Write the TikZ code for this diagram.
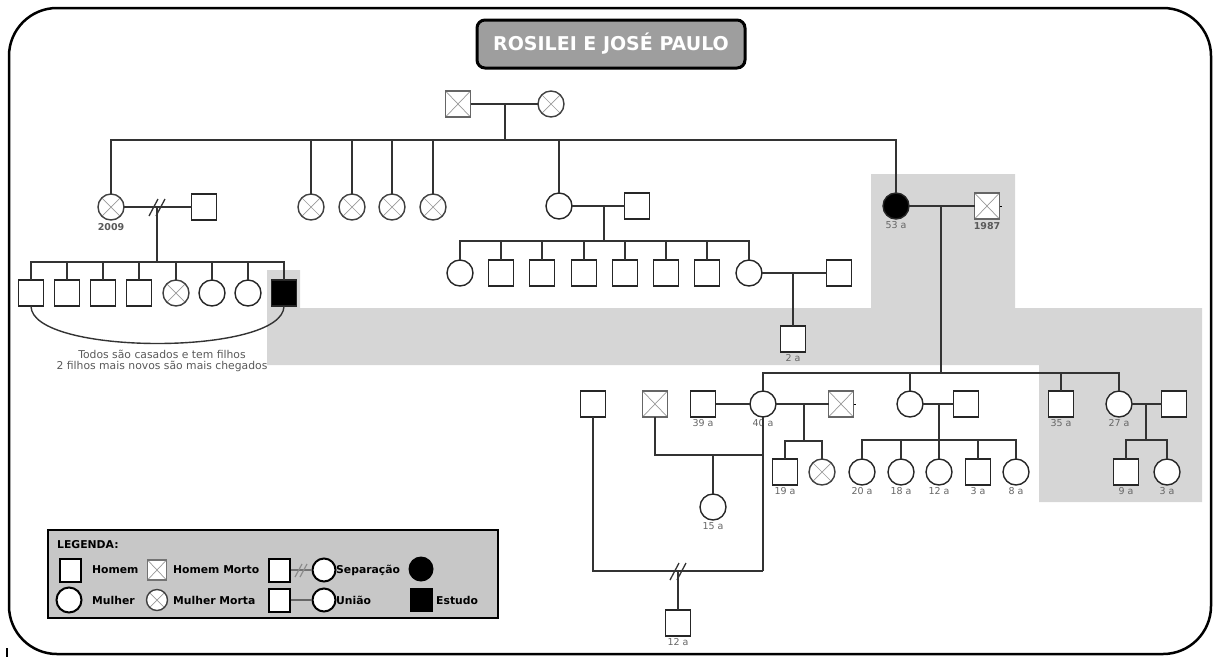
\documentclass[tikz,border=0pt]{standalone}
\usepackage{fontspec}
\setmainfont{DejaVu Sans}
\usetikzlibrary{calc}
\tikzset{
  conn/.style={line width=1.4pt, draw=black!80},
  sym/.style={draw=black!85, line width=1.4pt, fill=white, inner sep=0pt, outer sep=0pt},
  man/.style={sym, rectangle, minimum width=25pt, minimum height=26pt},
  woman/.style={sym, circle, minimum size=26pt},
  dead/.style={path picture={\draw[black!40, line width=0.7pt]
     (path picture bounding box.south west) -- (path picture bounding box.north east)
     (path picture bounding box.north west) -- (path picture bounding box.south east);}},
  deadman/.style={man, dead, draw=black!60},
  deadwoman/.style={woman, dead, draw=black!75},
  proband/.style={fill=black},
  lab/.style={font=\fontsize{9.5}{10}\selectfont, text=black!60, inner sep=1pt, label distance=1pt},
  labd/.style={font=\bfseries\fontsize{9.5}{10}\selectfont, text=black!65, inner sep=1pt, label distance=2pt},
  note/.style={font=\fontsize{10.8}{12}\selectfont, text=black!65, inner sep=0pt},
  lgsq/.style={draw=black, line width=2pt, fill=white, inner sep=0pt, rectangle, minimum width=21pt, minimum height=23pt},
  lgci/.style={draw=black, line width=2pt, fill=white, circle, minimum size=23pt, inner sep=0pt},
  legtext/.style={font=\bfseries\fontsize{10.8}{12}\selectfont, anchor=west, inner sep=0pt},
  sepmark/.pic={\draw[line width=1.3pt, black!80] (-8,9) -- (1,-8) (-1,9) -- (8,-8);},
  sepmarkleg/.pic={\draw[line width=1.2pt, black!45] (-6,7) -- (1,-6) (-1,7) -- (6,-6);}
}
\begin{document}
\begin{tikzpicture}[x=1pt,y=-1pt]
\useasboundingbox (0,0) rectangle (1214,657);

% grey highlight region
\fill[black!16] (267,270) -- (300,270) -- (300,308) -- (871,308) -- (871,174) -- (1015,174)
  -- (1015,308) -- (1202,308) -- (1202,502) -- (1039,502) -- (1039,365) -- (267,365) -- cycle;

% outer frame
\draw[line width=2.5pt, rounded corners=48pt] (9,8) rectangle (1211,654);
\draw[line width=2pt] (7,648) -- (7,657);

% title
\node[draw=black, line width=3pt, fill=black!38, rounded corners=8pt, minimum width=268pt,
  minimum height=48pt, text=white, font=\bfseries\fontsize{19}{22}\selectfont] (title) at (611,44) {ROSILEI E JOSÉ PAULO};

% ---------- generation 1
\node[deadman] (gp) at (458,104) {};
\node[deadwoman] (gm) at (551,104) {};
\coordinate (tj) at (505,104);
\coordinate (ts) at (505,140);
\draw[conn] (gp.east) -- (gm.west);
\draw[conn] (tj) -- (ts);

% ---------- generation 2
\node[deadwoman, label={[labd]below:2009}] (a1) at (111,207) {};
\node[man] (a1h) at (204,207) {};
\node[deadwoman] (a2) at (311,207) {};
\node[deadwoman] (a3) at (352,207) {};
\node[deadwoman] (a4) at (392,207) {};
\node[deadwoman] (a5) at (433,207) {};
\node[woman] (a6) at (559,206) {};
\node[man] (a6h) at (637,206) {};
\node[woman, proband, label={[lab]below:53 a}] (r) at (896,206) {};
\node[deadman, label={[labd]below:1987}] (rh) at (987,206) {};

\draw[conn] (a1.north) -- (a1.north |- ts) -- (r.north |- ts) -- (r.north);
\foreach \n in {a2,a3,a4,a5,a6} \draw[conn] (\n.north) -- (\n.north |- ts);

% ---------- left family
\draw[conn] (a1.east) -- (a1h.west);
\pic at (157,207) {sepmark};
\coordinate (lj) at (157,207);
\coordinate (ls) at (157,262);
\draw[conn] (lj) -- (ls);
\node[man] (l1) at (31,293) {};
\node[man] (l2) at (67,293) {};
\node[man] (l3) at (103,293) {};
\node[man] (l4) at (139,293) {};
\node[deadwoman] (l5) at (176,293) {};
\node[woman] (l6) at (212,293) {};
\node[woman] (l7) at (248,293) {};
\node[man, proband] (l8) at (284,293) {};
\draw[conn] (l1.north) -- (l1.north |- ls) -- (l8.north |- ls) -- (l8.north);
\foreach \n in {l2,l3,l4,l5,l6,l7} \draw[conn] (\n.north) -- (\n.north |- ls);
\draw[conn] (l1.south) .. controls (31,356) and (284,356) .. (l8.south);
\node[note] (n1) at (162,354) {Todos são casados e tem filhos};
\node[note] (n2) at (162,366) {2 filhos mais novos são mais chegados};

% ---------- middle family
\draw[conn] (a6.east) -- (a6h.west);
\coordinate (mj) at (604,206);
\coordinate (ms) at (604,241);
\draw[conn] (mj) -- (ms);
\node[woman] (m1) at (460,273) {};
\node[man] (m2) at (501,273) {};
\node[man] (m3) at (542,273) {};
\node[man] (m4) at (584,273) {};
\node[man] (m5) at (625,273) {};
\node[man] (m6) at (666,273) {};
\node[man] (m7) at (707,273) {};
\node[woman] (m8) at (749,273) {};
\node[man] (m8h) at (839,273) {};
\draw[conn] (m1.north) -- (m1.north |- ms) -- (m8.north |- ms) -- (m8.north);
\foreach \n in {m2,m3,m4,m5,m6,m7} \draw[conn] (\n.north) -- (\n.north |- ms);
\draw[conn] (m8.east) -- (m8h.west);
\coordinate (m8j) at (793,273);
\node[man, label={[lab]below:2 a}] (q1) at (793,339) {};
\draw[conn] (m8j) -- (q1.north);

% ---------- Rosilei's family
\draw[conn] (r.east) -- (rh.west);
\draw[line width=1pt] (rh.east) -- ++(2,0);
\coordinate (rj) at (941,206);
\coordinate (rs) at (941,373);
\draw[conn] (rj) -- (rs);

\node[man] (s1) at (593,404) {};
\node[deadman] (s2) at (655,404) {};
\node[man, label={[lab]below:39 a}] (s3) at (703,404) {};
\node[woman, label={[lab]below:40 a}] (s4) at (763,404) {};
\node[deadman] (s5) at (841,404) {};
\node[woman] (s6) at (910,404) {};
\node[man] (s6h) at (966,404) {};
\node[man, label={[lab]below:35 a}] (s7) at (1061,404) {};
\node[woman, label={[lab]below:27 a}] (s8) at (1119,404) {};
\node[man] (s8h) at (1174,404) {};
\draw[conn] (s4.north) -- (s4.north |- rs) -- (s8.north |- rs) -- (s8.north);
\foreach \n in {s6,s7} \draw[conn] (\n.north) -- (\n.north |- rs);

\draw[conn] (s3.east) -- (s4.west);
\draw[conn] (s4.east) -- (s5.west);
\draw[line width=1pt] (s5.east) -- ++(2,0);
\draw[conn] (s6.east) -- (s6h.west);
\draw[conn] (s8.east) -- (s8h.west);

% children of 40 a and deceased partner
\coordinate (t0) at (804,404);
\coordinate (ts2) at (804,441);
\draw[conn] (t0) -- (ts2);
\node[man, label={[lab]below:19 a}] (t1) at (785,472) {};
\node[deadwoman] (t2) at (822,472) {};
\draw[conn] (t1.north) -- (t1.north |- ts2) -- (t2.north |- ts2) -- (t2.north);

% children of woman and partner
\coordinate (u0) at (939,404);
\coordinate (us) at (939,440);
\draw[conn] (u0) -- (us);
\node[woman, label={[lab]below:20 a}] (u1) at (862,472) {};
\node[woman, label={[lab]below:18 a}] (u2) at (901,472) {};
\node[woman, label={[lab]below:12 a}] (u3) at (939,472) {};
\node[man, label={[lab]below:3 a}] (u4) at (978,472) {};
\node[woman, label={[lab]below:8 a}] (u5) at (1016,472) {};
\draw[conn] (u1.north) -- (u1.north |- us) -- (u5.north |- us) -- (u5.north);
\foreach \n in {u2,u3,u4} \draw[conn] (\n.north) -- (\n.north |- us);

% children of 27 a
\coordinate (v0) at (1146,404);
\coordinate (vs) at (1146,440);
\draw[conn] (v0) -- (vs);
\node[man, label={[lab]below:9 a}] (v1) at (1126,472) {};
\node[woman, label={[lab]below:3 a}] (v2) at (1167,472) {};
\draw[conn] (v1.north) -- (v1.north |- vs) -- (v2.north |- vs) -- (v2.north);

% 40 a with the deceased man: daughter 15 a
\coordinate (wj) at (713,455);
\coordinate (xj) at (678,571);
\draw[conn] (s4.south) -- (s4.south |- xj);
\draw[conn] (s2.south) |- (s4.south |- wj);
\node[woman, label={[lab]below:15 a}] (w1) at (713,507) {};
\draw[conn] (wj) -- (w1.north);

% 40 a with the first man (separated): son 12 a
\draw[conn] (s1.south) |- (s4.south |- xj);
\pic at (xj) {sepmark};
\node[man, label={[lab]below:12 a}] (x1) at (678,623) {};
\draw[conn] (xj) -- (x1.north);

% ---------- legend
\node[draw=black, line width=2.5pt, fill=black!22, minimum width=450pt, minimum height=88pt, inner sep=0pt] (leg) at (273,574) {};
\node[legtext] (legt) at (57,545) {LEGENDA:};

\node[lgsq] (lh) at (70,570) {};
\node[legtext] (lht) at (92,570) {Homem};
\node[lgsq, dead, draw=black!55, line width=1.2pt, minimum width=19pt, minimum height=20pt] (lhm) at (157,570) {};
\node[legtext] (lhmt) at (173,570) {Homem Morto};
\node[lgsq] (lsa) at (279,570) {};
\node[lgci] (lsb) at (324,570) {};
\draw[line width=1.4pt, black!55] (lsa.east) -- (lsb.west);
\pic at (301,570) {sepmarkleg};
\node[legtext] (lst) at (336,570) {Separação};
\node[circle, fill=black, minimum size=25pt, inner sep=0pt] (lbc) at (421,569) {};

\node[lgci, minimum size=25pt] (lm) at (69,600) {};
\node[legtext] (lmt) at (92,600) {Mulher};
\node[lgci, dead, draw=black!75, line width=1.4pt, minimum size=21pt] (lmm) at (157,600) {};
\node[legtext] (lmmt) at (173,600) {Mulher Morta};
\node[lgsq] (lua) at (279,600) {};
\node[lgci] (lub) at (324,600) {};
\draw[line width=1.4pt, black!60] (lua.east) -- (lub.west);
\node[legtext] (lut) at (336,600) {União};
\node[rectangle, fill=black, minimum width=23pt, minimum height=24pt, inner sep=0pt] (lbs) at (421,600) {};
\node[legtext] (lbst) at (436,600) {Estudo};
\end{tikzpicture}
\end{document}
